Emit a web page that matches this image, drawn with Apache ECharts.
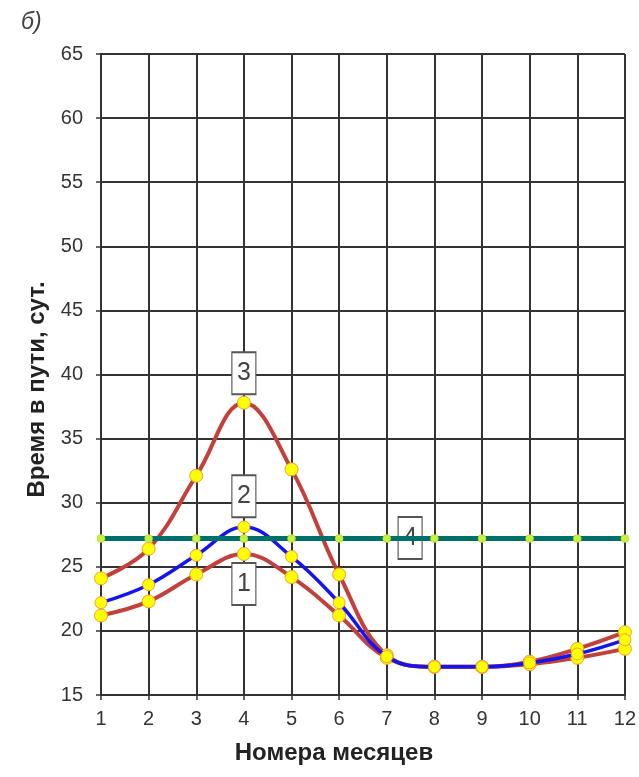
<!DOCTYPE html>
<html>
<head>
<meta charset="utf-8">
<script src="https://cdn.jsdelivr.net/npm/echarts@6/dist/echarts.min.js"></script>
<style>
html,body{margin:0;padding:0;background:#fff;}
#chart{width:639px;height:777px;}
</style>
</head>
<body>
<div id="chart"></div>
<script>
var months = [1,2,3,4,5,6,7,8,9,10,11,12];
var series1 = [21.2, 22.3, 24.4, 26.0, 24.2, 21.2, 17.9, 17.2, 17.2, 17.4, 17.9, 18.6];
var series2 = [22.2, 23.6, 25.9, 28.1, 25.8, 22.2, 18.0, 17.2, 17.2, 17.5, 18.2, 19.3];
var series3 = [24.1, 26.4, 32.1, 37.8, 32.6, 24.4, 18.1, 17.2, 17.2, 17.6, 18.6, 19.9];
var series4 = [27.2, 27.2, 27.2, 27.2, 27.2, 27.2, 27.2, 27.2, 27.2, 27.2, 27.2, 27.2];
var seriesNames = ['1','2','3','4'];
var yTicks = [15,20,25,30,35,40,45,50,55,60,65];

function pairs(vals){ return months.map(function(m,i){ return [m, vals[i]]; }); }

var FONT = 'Liberation Sans, Arial, sans-serif';
var boxStyle = {color:'#fff', borderColor:'#555', borderWidth:1.5};
var boxLabel = {show:true, position:'inside', fontSize:25, color:'#444', fontFamily:FONT};

function mark(name, coord){
  return {
    silent:true,
    symbol:'rect', symbolSize:[24,42],
    itemStyle:boxStyle,
    label:boxLabel,
    data:[{coord:coord, value:name, label:{formatter:name}}]
  };
}

var yellowMarker = {color:'#FFFF00', borderColor:'#F0A030', borderWidth:1};

var chart = echarts.init(document.getElementById('chart'), null, {renderer:'canvas'});
chart.setOption({
  animation:false,
  backgroundColor:'#fff',
  title:{text:'б)', left:16, top:6, textStyle:{fontSize:23, fontStyle:'italic', fontWeight:'normal', color:'#444', fontFamily:FONT}},
  grid:{left:101, right:14, top:54, bottom:82, containLabel:false},
  xAxis:{
    type:'value', min:1, max:12, interval:1,
    name:'Номера месяцев', nameLocation:'middle', nameGap:46,
    nameTextStyle:{fontSize:24, fontWeight:'bold', color:'#222', fontFamily:FONT, padding:[0,58,0,0]},
    axisLine:{show:true, lineStyle:{color:'#333', width:2}},
    axisTick:{show:true, length:5, lineStyle:{color:'#333', width:1.5}},
    axisLabel:{fontSize:20, color:'#333', margin:14, fontFamily:FONT},
    splitLine:{show:true, lineStyle:{color:'#333', width:2}}
  },
  yAxis:{
    type:'value', min:15, max:65, interval:5,
    name:'Время в пути, сут.', nameLocation:'middle', nameGap:52,
    nameTextStyle:{fontSize:24, fontWeight:'bold', color:'#222', fontFamily:FONT, padding:[0,30,0,0]},
    axisLine:{show:true, lineStyle:{color:'#333', width:2}},
    axisTick:{show:true, length:5, lineStyle:{color:'#333', width:1.5}},
    axisLabel:{fontSize:20, color:'#333', margin:18, fontFamily:FONT,
      formatter:function(v){ return yTicks.indexOf(v) >= 0 ? String(v) : ''; }},
    splitLine:{show:true, lineStyle:{color:'#333', width:2}}
  },
  series:[
    {name:seriesNames[0], type:'line', data:pairs(series1), smooth:0.4,
     symbol:'circle', symbolSize:13, itemStyle:yellowMarker,
     lineStyle:{color:'#C4403A', width:4}, z:3,
     markPoint:mark('1',[4,23.65])},
    {name:seriesNames[2], type:'line', data:pairs(series3), smooth:0.4,
     symbol:'circle', symbolSize:13, itemStyle:yellowMarker,
     lineStyle:{color:'#C4403A', width:4}, z:3,
     markPoint:mark('3',[4,40.1])},
    {name:seriesNames[1], type:'line', data:pairs(series2), smooth:0.4,
     symbol:'circle', symbolSize:12, itemStyle:yellowMarker,
     lineStyle:{color:'#1414F0', width:3.5}, z:4,
     markPoint:mark('2',[4,30.5])},
    {name:seriesNames[3], type:'line', data:pairs(series4),
     symbol:'circle', symbolSize:8, itemStyle:{color:'#CCF03C', borderColor:'#9ACD32', borderWidth:0.5},
     lineStyle:{color:'#00706A', width:5}, z:5,
     markPoint:mark('4',[7.49,27.25])}
  ]
});
</script>
</body>
</html>
